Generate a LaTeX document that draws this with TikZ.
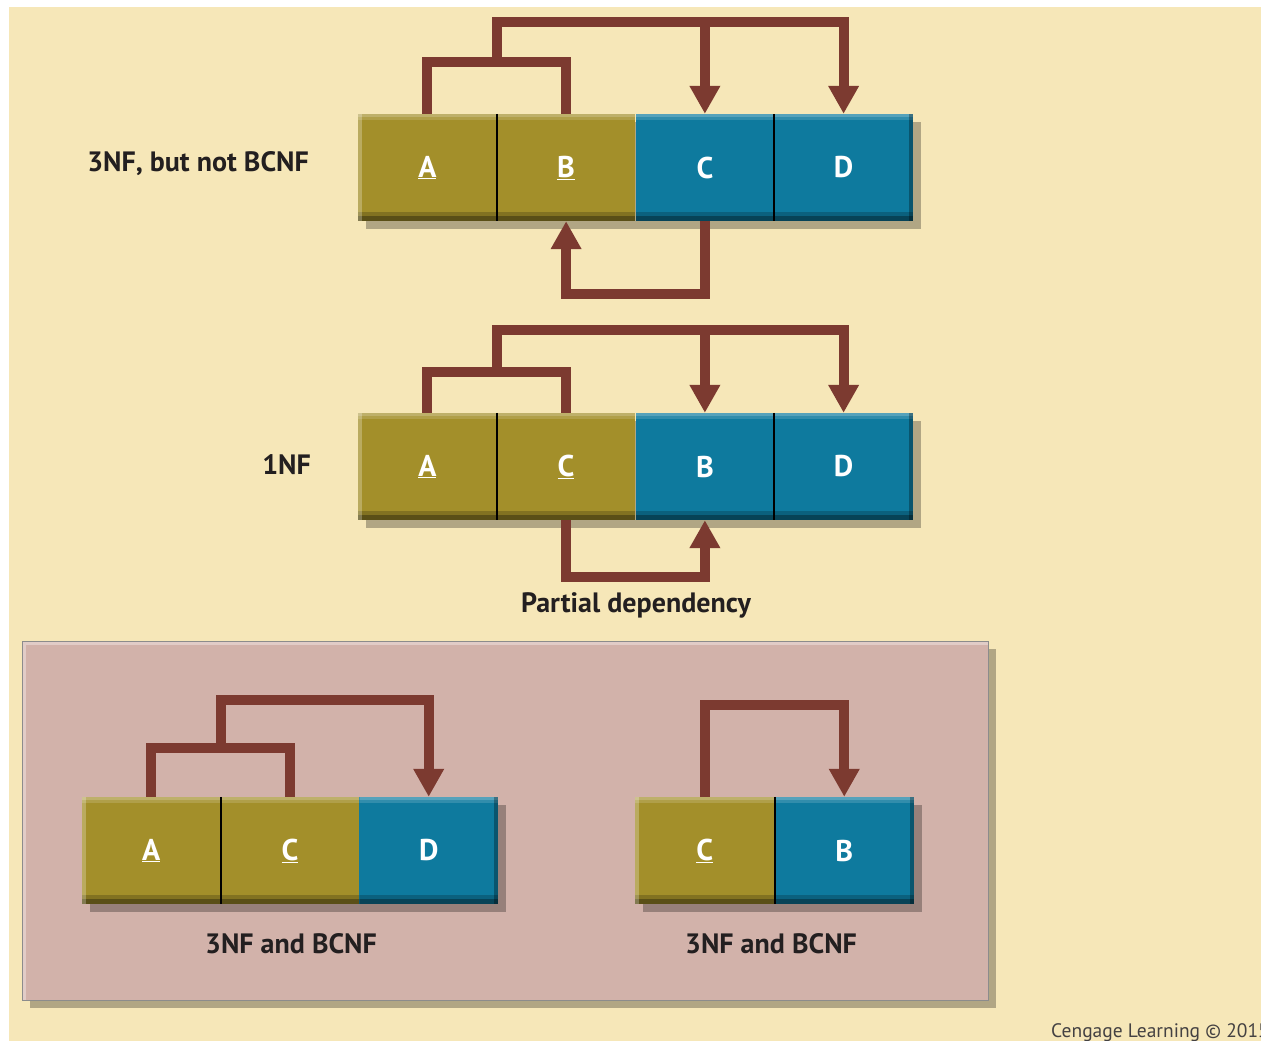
\documentclass[tikz,border=0pt]{standalone}
\usepackage{fontspec}
\setmainfont{PT Sans}
\usetikzlibrary{arrows.meta,calc}
\definecolor{bgc}{RGB}{246,231,184}
\definecolor{olivec}{RGB}{163,143,42}
\definecolor{bluec}{RGB}{14,122,158}
\definecolor{arrowc}{RGB}{124,58,48}
\definecolor{pinkc}{RGB}{210,178,170}
\definecolor{txtc}{RGB}{35,31,32}
\pgfdeclarelayer{back}
\pgfdeclarelayer{mid}
\pgfsetlayers{back,mid,main}
\tikzset{
  cell/.style={minimum height=107pt, inner sep=0pt, text=white,
    font=\fontsize{30}{32}\selectfont\bfseries,
    path picture={
      \fill[white,opacity=0.30] (path picture bounding box.north west) rectangle ([yshift=-3pt]path picture bounding box.north east);
      \fill[white,opacity=0.15] ([yshift=-3pt]path picture bounding box.north west) rectangle ([yshift=-6pt]path picture bounding box.north east);
      \fill[black,opacity=0.20] ([yshift=9pt]path picture bounding box.south west) rectangle (path picture bounding box.south east);
      \fill[black,opacity=0.30] ([yshift=5pt]path picture bounding box.south west) rectangle (path picture bounding box.south east);
    }},
  key/.style={cell, fill=olivec},
  nonkey/.style={cell, fill=bluec},
  sepline/.style={draw=black, line width=2pt},
  rowshadow/.style={fill=black, opacity=0.28},
  dep/.style={draw=arrowc, line width=10pt, line join=miter},
  deparrow/.style={dep, -{Triangle[length=28pt,width=29pt]}},
  lbl/.style={text=txtc, font=\fontsize{28}{31}\selectfont\bfseries, inner sep=0pt},
  credit/.style={text=txtc!85, font=\fontsize{19.5}{22}\selectfont, inner sep=0pt}
}
\newcommand{\rowdeco}[2]{%
  \begin{pgfonlayer}{mid}
    \fill[rowshadow] ($(#1.north west)+(8,8)$) rectangle ($(#2.south east)+(8,8)$);
  \end{pgfonlayer}
  \fill[white,opacity=0.25] (#1.north west) rectangle ($(#1.south west)+(4,0)$);
  \fill[black,opacity=0.30] ($(#2.north east)+(-4,0)$) rectangle (#2.south east);
}
\begin{document}
\begin{tikzpicture}[x=1pt,y=-1pt]
\clip (0,0) rectangle (1261,1041);
\begin{pgfonlayer}{back}
  \fill[white] (0,0) rectangle (1261,1041);
  \fill[bgc] (9,7) rectangle (1261,1041);
  % pink panel
  \fill[black,opacity=0.28] (30,649) rectangle (996,1008);
  \fill[pinkc] (22,641) rectangle (988,1000);
  \fill[white,opacity=0.35] (22,641) rectangle (988,645);
  \fill[white,opacity=0.35] (22,645) rectangle (26,1000);
  \draw[black!45,line width=1pt] (22,641) rectangle (988,1000);
\end{pgfonlayer}

% ---------- Row 1: 3NF, but not BCNF ----------
\node[key,minimum width=138.75pt]    (r1a) at (427.4,167.5) {\underline{A}};
\node[key,minimum width=138.75pt]    (r1b) at (566.1,167.5) {\underline{B}};
\node[nonkey,minimum width=138.75pt] (r1c) at (704.9,167.5) {C};
\node[nonkey,minimum width=138.75pt] (r1d) at (843.6,167.5) {D};
\rowdeco{r1a}{r1d}
\draw[sepline] (r1a.north east) -- (r1a.south east);
\draw[sepline] (r1c.north east) -- (r1c.south east);

\draw[dep] (r1a.north) -- ++(0,-52) coordinate (r1l) -| (r1b.north);
\coordinate (r1m) at ($(r1l)!0.5!(r1l -| r1b.north)$);
\draw[deparrow] (r1m) -- ++(0,-40) coordinate (r1t) -| (r1d.north);
\draw[deparrow] (r1t -| r1c.north) -- (r1c.north);
\draw[deparrow] (r1c.south) -- ++(0,73) -| (r1b.south);
\node[lbl,anchor=east] (l1) at (309,164) {3NF, but not BCNF};

% ---------- Row 2: 1NF ----------
\node[key,minimum width=138.75pt]    (r2a) at (427.4,466.5) {\underline{A}};
\node[key,minimum width=138.75pt]    (r2c) at (566.1,466.5) {\underline{C}};
\node[nonkey,minimum width=138.75pt] (r2b) at (704.9,466.5) {B};
\node[nonkey,minimum width=138.75pt] (r2d) at (843.6,466.5) {D};
\rowdeco{r2a}{r2d}
\draw[sepline] (r2a.north east) -- (r2a.south east);
\draw[sepline] (r2b.north east) -- (r2b.south east);

\draw[dep] (r2a.north) -- ++(0,-41) coordinate (r2l) -| (r2c.north);
\coordinate (r2m) at ($(r2l)!0.5!(r2l -| r2c.north)$);
\draw[deparrow] (r2m) -- ++(0,-42) coordinate (r2t) -| (r2d.north);
\draw[deparrow] (r2t -| r2b.north) -- (r2b.north);
\draw[deparrow] (r2c.south) -- ++(0,57) -| (r2b.south);
\node[lbl,anchor=east] (l2) at (311,465) {1NF};
\node[lbl] (l3) at (636,605) {Partial dependency};

% ---------- Row 3 left: A C D ----------
\node[key,minimum width=138.67pt]    (r3a) at (151.3,850.5) {\underline{A}};
\node[key,minimum width=138.67pt]    (r3c) at (290.0,850.5) {\underline{C}};
\node[nonkey,minimum width=138.67pt] (r3d) at (428.7,850.5) {D};
\rowdeco{r3a}{r3d}
\draw[sepline] (r3a.north east) -- (r3a.south east);

\draw[dep] (r3a.north) -- ++(0,-49) coordinate (r3l) -| (r3c.north);
\coordinate (r3m) at ($(r3l)!0.5!(r3l -| r3c.north)$);
\draw[deparrow] (r3m) -- ++(0,-48) -| (r3d.north);
\node[lbl] (l4) at (291,944) {3NF and BCNF};

% ---------- Row 3 right: C B ----------
\node[key,minimum width=139.5pt]    (r4c) at (704.75,850.5) {\underline{C}};
\node[nonkey,minimum width=139.5pt] (r4b) at (844.25,850.5) {B};
\rowdeco{r4c}{r4b}
\draw[sepline] (r4c.north east) -- (r4c.south east);

\draw[deparrow] (r4c.north) -- ++(0,-92) -| (r4b.north);
\node[lbl] (l5) at (771,944) {3NF and BCNF};

\node[credit,anchor=base west] (cr) at (1051,1037) {Cengage Learning © 2015};
\end{tikzpicture}
\end{document}
